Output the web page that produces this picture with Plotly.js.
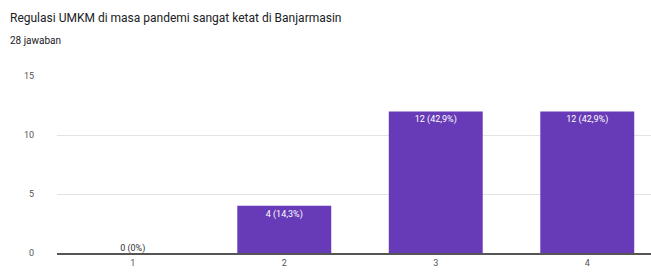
<!DOCTYPE html>
<html><head><meta charset="utf-8">
<script src="https://cdn.plot.ly/plotly-3.0.1.min.js"></script>
<style>html,body{margin:0;padding:0;overflow:hidden;background:#fff}#c{width:670px;height:272px}</style>
</head><body><div id="c"></div>
<script>
const chartTitle = "Regulasi UMKM di masa pandemi sangat ketat di Banjarmasin";
const subtitle = "28 jawaban";
const categories = ["1", "2", "3", "4"];
const counts = [0, 4, 12, 12];
const labels = ["0 (0%)", "4 (14,3%)", "12 (42,9%)", "12 (42,9%)"];
const yTicks = [0, 5, 10, 15];

const barColor = "#673ab7";
const trace = {
  type: "bar", x: categories, y: counts,
  marker: {color: barColor},
  text: labels.map((l, i) => counts[i] > 0 ? l : ""),
  textposition: "inside", insidetextanchor: "end",
  textfont: {family: "Roboto, Arial", size: 9, color: "#ffffff"},
  cliponaxis: false, hoverinfo: "none"
};
const zeroTrace = {
  type: "scatter", mode: "text", x: categories.filter((c, i) => counts[i] === 0),
  y: counts.filter(v => v === 0),
  text: labels.filter((l, i) => counts[i] === 0),
  textposition: "top center",
  textfont: {family: "Roboto, Arial", size: 9, color: "#333"},
  cliponaxis: false, hoverinfo: "none"
};
const layout = {
  width: 670, height: 272,
  margin: {l: 57, r: 7, t: 76, b: 19},
  paper_bgcolor: "#fff", plot_bgcolor: "#fff",
  showlegend: false, bargap: 0.38,
  xaxis: {type: "category", showgrid: false, zeroline: false, showline: true,
    linecolor: "#555", linewidth: 2,
    tickfont: {family: "Roboto, Arial", size: 9, color: "#555"}, ticks: "", fixedrange: true},
  yaxis: {range: [0, 15], tickvals: yTicks, showgrid: true, gridcolor: "#e3e3e3",
    zeroline: false, showline: false, ticks: "", ticklabelstandoff: 22,
    tickfont: {family: "Roboto, Arial", size: 9, color: "#555"}, fixedrange: true},
  annotations: [
    {text: chartTitle, xref: "paper", yref: "paper", x: -49/606, y: 1 + 58/177,
     xanchor: "left", yanchor: "middle", showarrow: false,
     font: {family: "Roboto, Arial", size: 12, color: "#202124"}},
    {text: subtitle, xref: "paper", yref: "paper", x: -49/606, y: 1 + 36/177,
     xanchor: "left", yanchor: "middle", showarrow: false,
     font: {family: "Roboto, Arial", size: 10, color: "#202124"}}
  ]
};
Plotly.newPlot("c", [trace, zeroTrace], layout, {displayModeBar: false, staticPlot: true});
</script></body></html>
